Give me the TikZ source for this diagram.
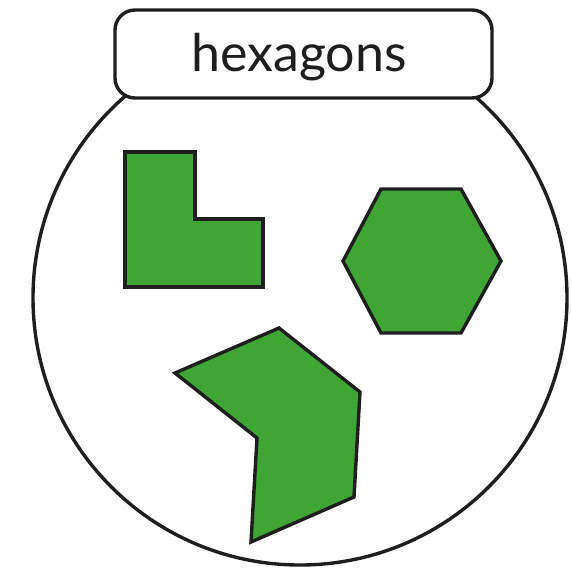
\documentclass[tikz,border=0pt]{standalone}
\usepackage{fontspec}
\setmainfont{Lato}
\definecolor{shapegreen}{RGB}{63,165,53}
\definecolor{inkline}{RGB}{30,30,30}
\tikzset{
    shapefill/.style={fill=shapegreen, draw=inkline, line width=3.4pt, line join=miter},
    tag/.style={draw=inkline, line width=3.4pt, fill=white, rounded corners=20pt, minimum width=377pt, minimum height=88pt, inner sep=0pt}
}
\begin{document}
\begin{tikzpicture}[x=1pt, y=-1pt]
        \useasboundingbox (0,0) rectangle (572,571);
        % Bag
        \node[draw=inkline, line width=3.4pt, circle, minimum size=534pt, inner sep=0pt] (bag) at (300, 298) {};
        \node[tag] (title) at (303.5, 54) {};
        \node[font=\fontsize{52}{56}\selectfont, text=inkline, anchor=base, inner sep=0pt] (word) at (299, 71) {hexagons};

        % Shapes in the bag
        \draw[shapefill] (125,152) -- (195,152) -- (195,219) -- (263,219) -- (263,287) -- (125,287) -- cycle;
        \draw[shapefill] (381,189) -- (461,189) -- (501,261) -- (461,333) -- (381,333) -- (343,261) -- cycle;
        \draw[shapefill] (279,328) -- (360,392) -- (354,497) -- (251,542) -- (257,438) -- (175,373) -- cycle;
    \end{tikzpicture}
\end{document}
